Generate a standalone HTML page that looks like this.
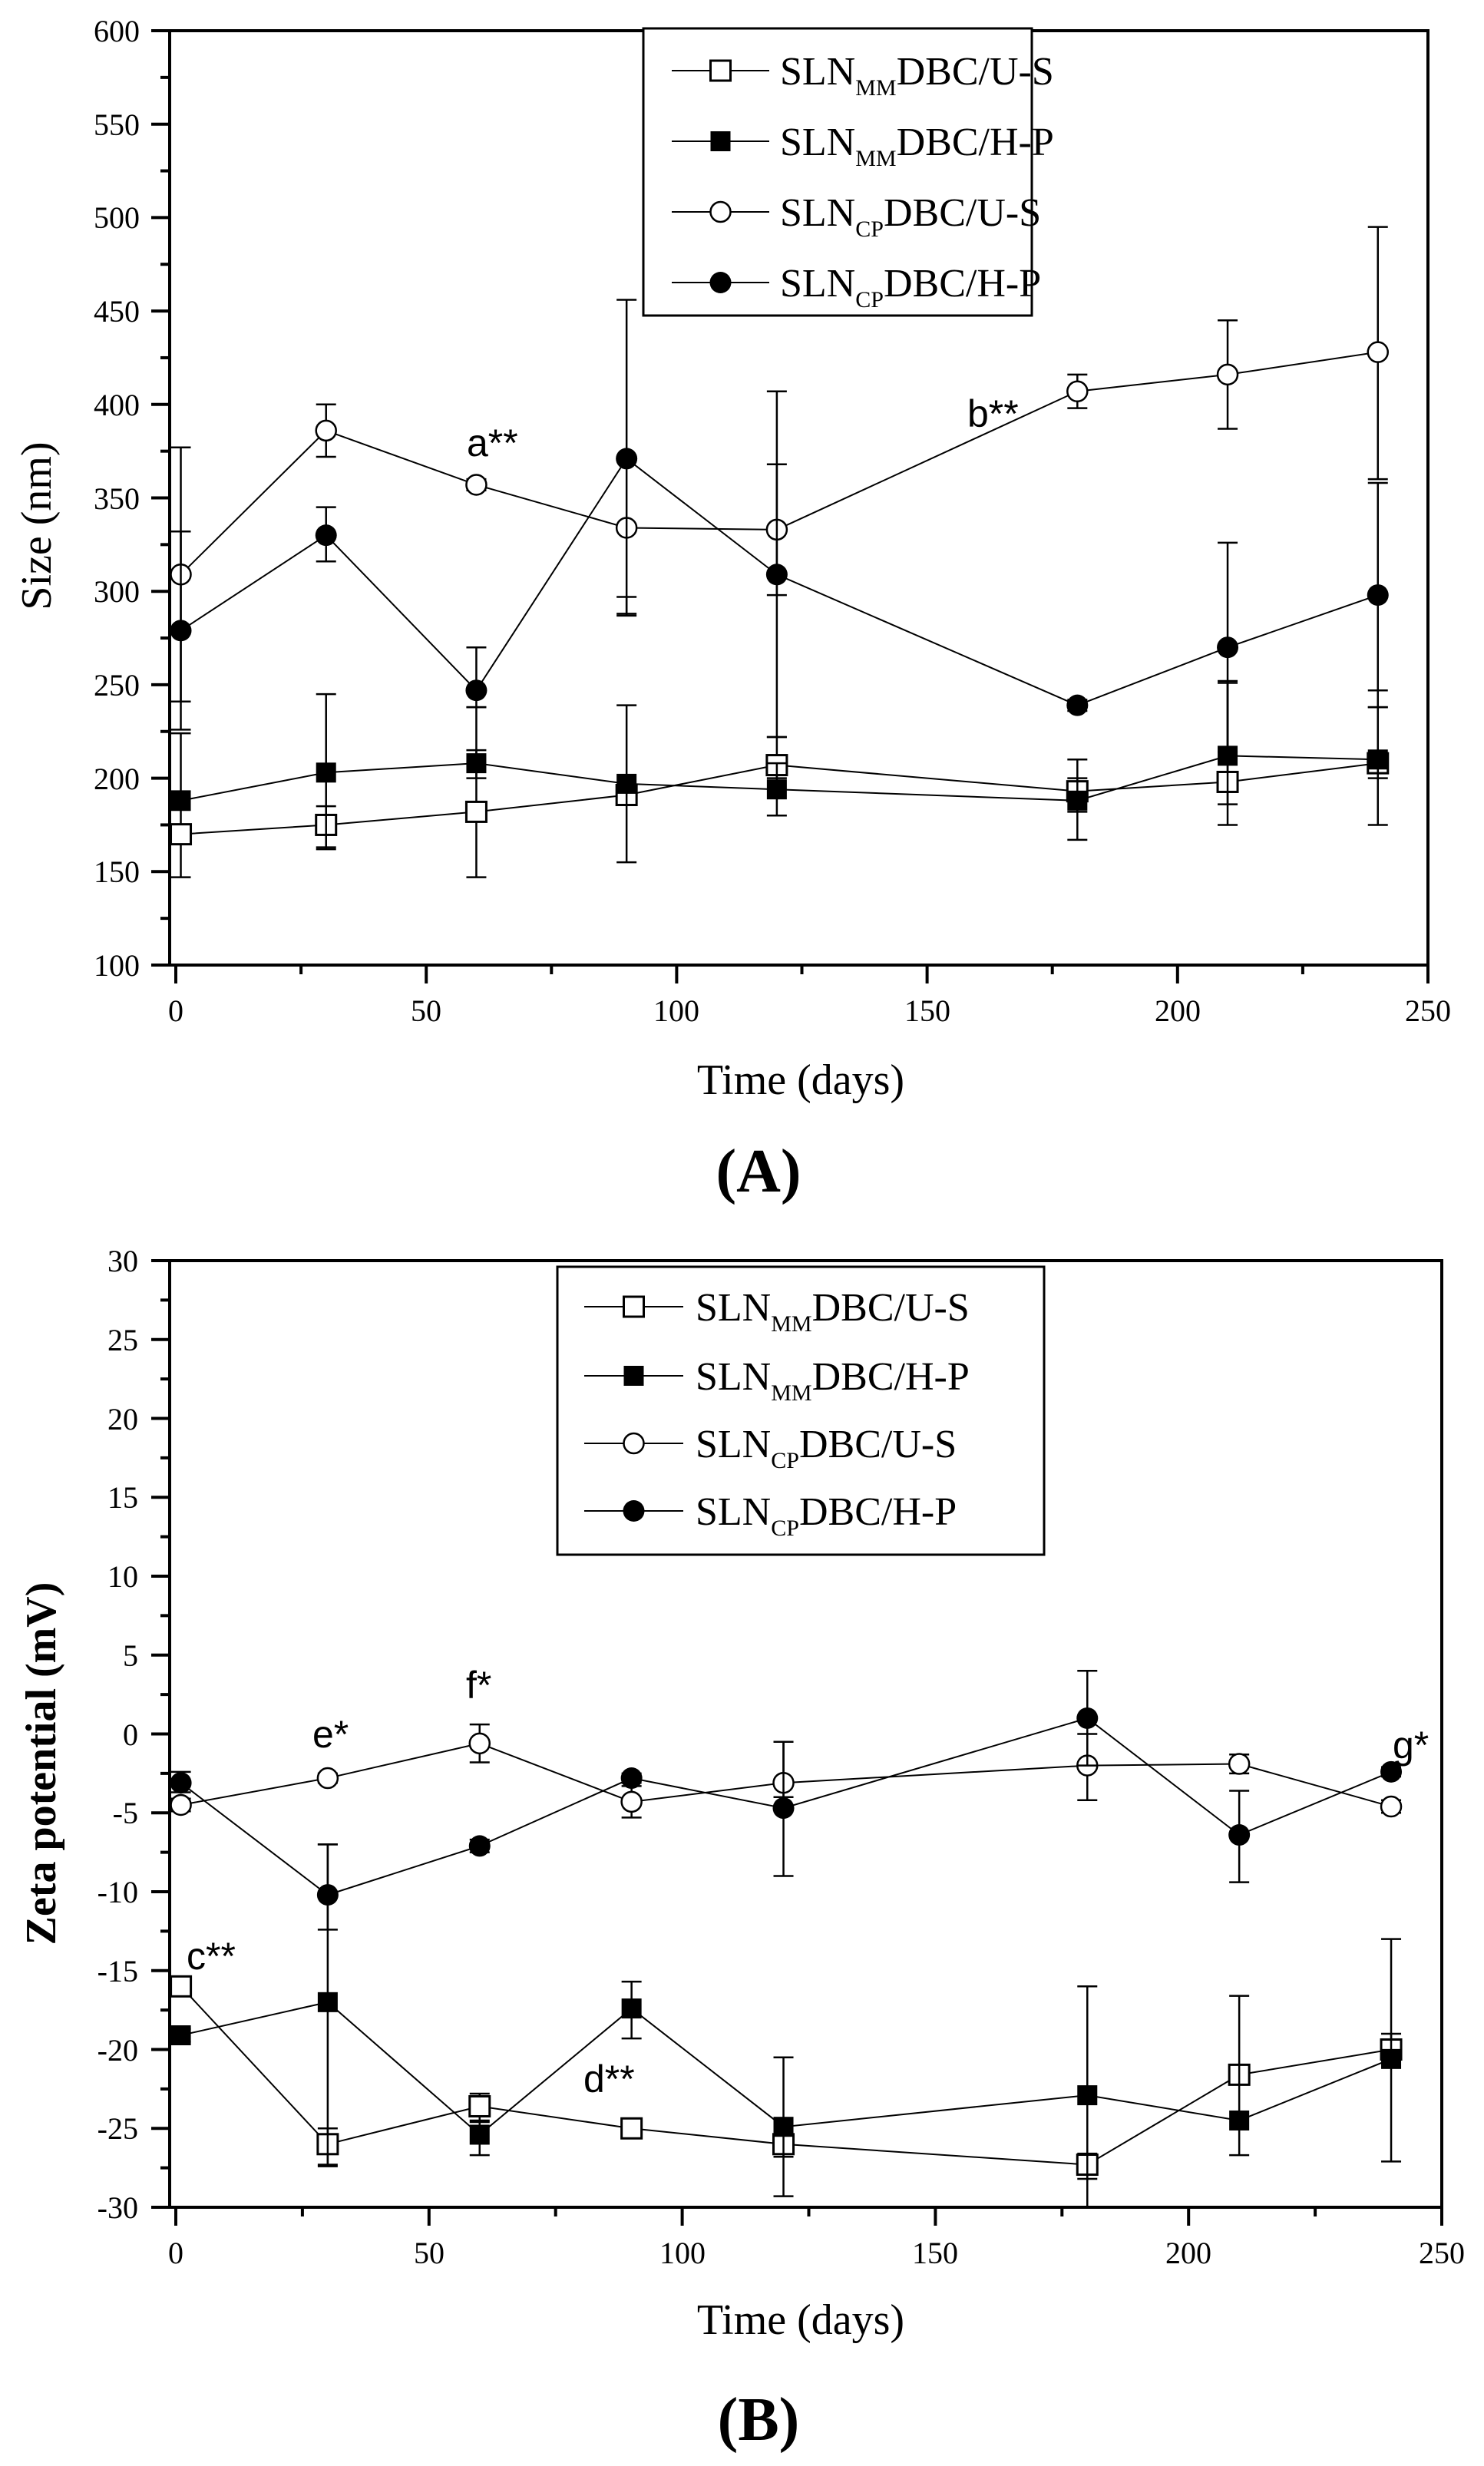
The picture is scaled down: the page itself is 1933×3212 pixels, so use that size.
<!DOCTYPE html>
<html><head><meta charset="utf-8"><style>
html,body{margin:0;padding:0;background:#fff}
svg{display:block}
text{font-family:"Liberation Serif",serif;fill:#000}
.s{font-family:"Liberation Sans",sans-serif}
</style></head><body>
<svg id="c" width="1933" height="3212" viewBox="0 0 1933 3212" xmlns="http://www.w3.org/2000/svg">
<rect width="1933" height="3212" fill="#fff"/>
<g id="gA"></g><g id="gB"></g>
<!-- Chart A text -->
<g font-size="40" text-anchor="end">
<text x="182" y="54">600</text><text x="182" y="176">550</text><text x="182" y="297">500</text><text x="182" y="419">450</text><text x="182" y="541">400</text><text x="182" y="663">350</text><text x="182" y="784">300</text><text x="182" y="906">250</text><text x="182" y="1028">200</text><text x="182" y="1149">150</text><text x="182" y="1271">100</text>
</g>
<g font-size="40" text-anchor="middle">
<text x="229" y="1330">0</text><text x="555" y="1330">50</text><text x="881" y="1330">100</text><text x="1208" y="1330">150</text><text x="1534" y="1330">200</text><text x="1860" y="1330">250</text>
</g>
<text x="1043" y="1425" font-size="56" text-anchor="middle">Time (days)</text>
<text transform="translate(66,685) rotate(-90)" font-size="56" text-anchor="middle">Size (nm)</text>
<text x="988" y="1552" font-size="80" font-weight="bold" text-anchor="middle">(A)</text>
<text class="s" x="608" y="594" font-size="50">a**</text>
<text class="s" x="1260" y="556" font-size="50">b**</text>
<g font-size="52">
<text x="1016" y="110">SLN<tspan font-size="30" dy="14">MM</tspan><tspan dy="-14">DBC/U-S</tspan></text>
<text x="1016" y="202">SLN<tspan font-size="30" dy="14">MM</tspan><tspan dy="-14">DBC/H-P</tspan></text>
<text x="1016" y="294">SLN<tspan font-size="30" dy="14">CP</tspan><tspan dy="-14">DBC/U-S</tspan></text>
<text x="1016" y="386">SLN<tspan font-size="30" dy="14">CP</tspan><tspan dy="-14">DBC/H-P</tspan></text>
</g>
<!-- Chart B text -->
<g font-size="40" text-anchor="end">
<text x="180" y="1656">30</text><text x="180" y="1759">25</text><text x="180" y="1862">20</text><text x="180" y="1964">15</text><text x="180" y="2067">10</text><text x="180" y="2170">5</text><text x="180" y="2273">0</text><text x="180" y="2375">-5</text><text x="180" y="2478">-10</text><text x="180" y="2581">-15</text><text x="180" y="2684">-20</text><text x="180" y="2786">-25</text><text x="180" y="2889">-30</text>
</g>
<g font-size="40" text-anchor="middle">
<text x="229" y="2948">0</text><text x="559" y="2948">50</text><text x="889" y="2948">100</text><text x="1218" y="2948">150</text><text x="1548" y="2948">200</text><text x="1878" y="2948">250</text>
</g>
<text x="1043" y="3040" font-size="56" text-anchor="middle">Time (days)</text>
<text transform="translate(72,2297) rotate(-90)" font-size="56" font-weight="bold" text-anchor="middle">Zeta potential (mV)</text>
<text x="988" y="3178" font-size="80" font-weight="bold" text-anchor="middle">(B)</text>
<text class="s" x="243" y="2565" font-size="50">c**</text>
<text class="s" x="760" y="2725" font-size="50">d**</text>
<text class="s" x="407" y="2276" font-size="50">e*</text>
<text class="s" x="607" y="2212" font-size="50">f*</text>
<text class="s" x="1814" y="2290" font-size="50">g*</text>
<g font-size="52">
<text x="906" y="1720">SLN<tspan font-size="30" dy="14">MM</tspan><tspan dy="-14">DBC/U-S</tspan></text>
<text x="906" y="1810">SLN<tspan font-size="30" dy="14">MM</tspan><tspan dy="-14">DBC/H-P</tspan></text>
<text x="906" y="1898">SLN<tspan font-size="30" dy="14">CP</tspan><tspan dy="-14">DBC/U-S</tspan></text>
<text x="906" y="1986">SLN<tspan font-size="30" dy="14">CP</tspan><tspan dy="-14">DBC/H-P</tspan></text>
</g>
</svg>
<script>
var NS="http://www.w3.org/2000/svg";
function el(g,t,a){var e=document.createElementNS(NS,t);for(var k in a)e.setAttribute(k,a[k]);g.appendChild(e);return e;}
function marker(g,type,x,y){var r=13;
 if(type==0)el(g,"rect",{x:x-r,y:y-r,width:2*r,height:2*r,fill:"#fff",stroke:"#000","stroke-width":3});
 if(type==1)el(g,"rect",{x:x-r,y:y-r,width:2*r,height:2*r,fill:"#000"});
 if(type==2)el(g,"circle",{cx:x,cy:y,r:r,fill:"#fff",stroke:"#000","stroke-width":2.5});
 if(type==3)el(g,"circle",{cx:x,cy:y,r:r+1,fill:"#000"});}
function chart(id,C){var g=document.getElementById(id);
 var X=function(v){return C.x0+(v)*(C.x1-C.x0)/250},Y=function(v){return C.yb+(v-C.vmin)*(C.yt-C.yb)/(C.vmax-C.vmin)};
 el(g,"rect",{x:C.L,y:C.yt,width:C.x1-C.L,height:C.yb-C.yt,fill:"none",stroke:"#000","stroke-width":4});
 for(var v=C.vmin;v<=C.vmax+1e-6;v+=C.minor){var maj=Math.abs(((v-C.vmin)/C.major)-Math.round((v-C.vmin)/C.major))<1e-6;
  el(g,"line",{x1:C.L-(maj?24:12),x2:C.L,y1:Y(v),y2:Y(v),stroke:"#000","stroke-width":4});}
 for(var d=0;d<=250;d+=25){var maj=d%50==0;el(g,"line",{x1:X(d),x2:X(d),y1:C.yb,y2:C.yb+(maj?24:12),stroke:"#000","stroke-width":4});}
 C.series.forEach(function(s,i){
  var pts=s.map(function(p){return X(p[0])+","+Y(p[1])}).join(" ");
  el(g,"polyline",{points:pts,fill:"none",stroke:"#000","stroke-width":2});
  s.forEach(function(p){if(p[2]==null)return;var x=X(p[0]);
   el(g,"line",{x1:x,x2:x,y1:Y(p[2]),y2:Y(p[3]),stroke:"#000","stroke-width":2.5});
   [p[2],p[3]].forEach(function(e){el(g,"line",{x1:x-13,x2:x+13,y1:Y(e),y2:Y(e),stroke:"#000","stroke-width":2.5});});});
  s.forEach(function(p){marker(g,i,X(p[0]),Y(p[1]));});});
 el(g,"rect",{x:C.lg[0],y:C.lg[1],width:C.lg[2]-C.lg[0],height:C.lg[3]-C.lg[1],fill:"#fff",stroke:"#000","stroke-width":3});
 C.ly.forEach(function(y,i){el(g,"line",{x1:C.lx[0],x2:C.lx[1],y1:y,y2:y,stroke:"#000","stroke-width":2});marker(g,i,(C.lx[0]+C.lx[1])/2,y);});
}
chart("gA",{L:221,x0:229,x1:1860,yt:40,yb:1257,vmin:100,vmax:600,major:50,minor:25,
 lg:[838,37,1344,411],lx:[875,1002],ly:[92,184,276,368],
 series:[
 [[1,170,147,224],[30,175,163,185],[60,182,147,238],[90,191,186,196],[120,207,200,222],[180,193,182,210],[210,198,186,252],[240,208,200,238]],
 [[1,188,183,193],[30,203,162,245],[60,208,200,215],[90,197,155,239],[120,194,180,208],[180,188,167,200],[210,212,175,251],[240,210,175,247]],
 [[1,309,241,377],[30,386,372,400],[60,357,354,360],[90,334,288,297],[120,333,298,368],[180,407,398,416],[210,416,387,445],[240,428,360,495]],
 [[1,279,226,332],[30,330,316,345],[60,247,238,270],[90,371,287,456],[120,309,222,407],[180,239,236,242],[210,270,214,326],[240,298,238,358]]]});
chart("gB",{L:221,x0:229,x1:1878,yt:1642,yb:2875,vmin:-30,vmax:30,major:5,minor:2.5,
 lg:[726,1650,1360,2025],lx:[761,890],ly:[1702,1792,1880,1968],
 series:[
 [[1,-16,-16.4,-15.6],[30,-26,-27.3,-25],[60,-23.6,-24.5,-22.8],[90,-25,-25.6,-24.4],[120,-26,-26.8,-25.4],[180,-27.3,-28.2,-26.6],[210,-21.6,-22.2,-21],[240,-20,-20.6,-19]],
 [[1,-19.1,-19.5,-18.7],[30,-17,-27.4,-7],[60,-25.4,-26.7,-24.6],[90,-17.4,-19.3,-15.7],[120,-24.9,-29.3,-20.5],[180,-22.9,-30,-16],[210,-24.5,-26.7,-16.6],[240,-20.6,-27.1,-13]],
 [[1,-4.5,-4.9,-4.1],[30,-2.8,-3.1,-2.5],[60,-0.6,-1.8,0.6],[90,-4.3,-5.3,-3.3],[120,-3.1,-4,-0.5],[180,-2,-4.2,0],[210,-1.9,-2.5,-1.3],[240,-4.6,-5,-4.2]],
 [[1,-3.1,-3.7,-2.4],[30,-10.2,-12.4,-7],[60,-7.1,-7.5,-6.7],[90,-2.8,-3.1,-2.5],[120,-4.7,-9,-0.5],[180,1,-2,4],[210,-6.4,-9.4,-3.6],[240,-2.4,-2.7,-2.1]]]});
</script>
</body></html>
